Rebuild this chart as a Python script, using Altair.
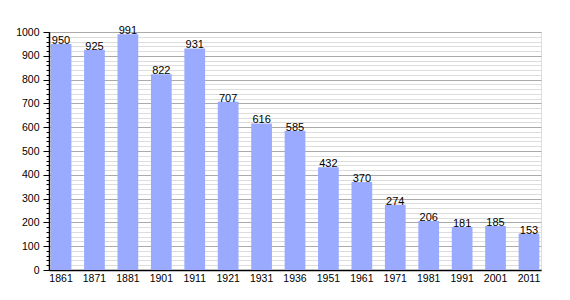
import altair as alt
import pandas as pd

years = ["1861", "1871", "1881", "1901", "1911", "1921", "1931", "1936", "1951", "1961", "1971", "1981", "1991", "2001", "2011"]
population = [950, 925, 991, 822, 931, 707, 616, 585, 432, 370, 274, 206, 181, 185, 153]

df = pd.DataFrame({"year": years, "pop": population})

FONT = "Liberation Sans"
xenc = alt.X("year:N", sort=years, title=None,
             scale=alt.Scale(paddingInner=0.38, paddingOuter=0.05),
             axis=alt.Axis(labelAngle=0, labelFont=FONT, labelFontSize=10.5, labelColor="black",
                           ticks=False, domainColor="black", domainWidth=1.5, labelPadding=3))
yscale = alt.Scale(domain=[0, 1000], nice=False)

minor = alt.Chart(df).mark_bar(opacity=0).encode(
    x=xenc,
    y=alt.Y("pop:Q", scale=yscale, title=None,
            axis=alt.Axis(orient="left", values=list(range(0, 1001, 20)), labels=False, grid=True,
                          gridColor="#dddddd", gridWidth=1, tickSize=3, tickColor="black",
                          domain=False))
)

major = alt.Chart(df).mark_bar(opacity=0).encode(
    x=xenc,
    y=alt.Y("pop:Q", scale=yscale, title=None,
            axis=alt.Axis(orient="left", values=list(range(0, 1001, 100)), format="d", grid=True,
                          gridColor="#aaaaaa", gridWidth=1, tickSize=6, tickColor="black",
                          domainColor="black", domainWidth=1.5, labelFont=FONT, labelFontSize=10.5,
                          labelColor="black", labelPadding=4))
)

bars = alt.Chart(df).mark_bar(color="#99aaff").encode(
    x=xenc, y=alt.Y("pop:Q", scale=yscale, axis=None)
)

text = alt.Chart(df).mark_text(font=FONT, fontSize=11, color="black", baseline="bottom", dy=2).encode(
    x=xenc, y=alt.Y("pop:Q", scale=yscale, axis=None), text="pop:Q"
)

chart = alt.layer(minor, major, bars, text).resolve_axis(y="independent").properties(
    width=492, height=238,
    autosize=alt.AutoSizeParams(type="none"),
    padding={"left": 49, "top": 32, "right": 29, "bottom": 30},
).configure_view(stroke=None).configure(background="white")

chart.save("out.html", embed_options={"renderer": "svg", "actions": False})
